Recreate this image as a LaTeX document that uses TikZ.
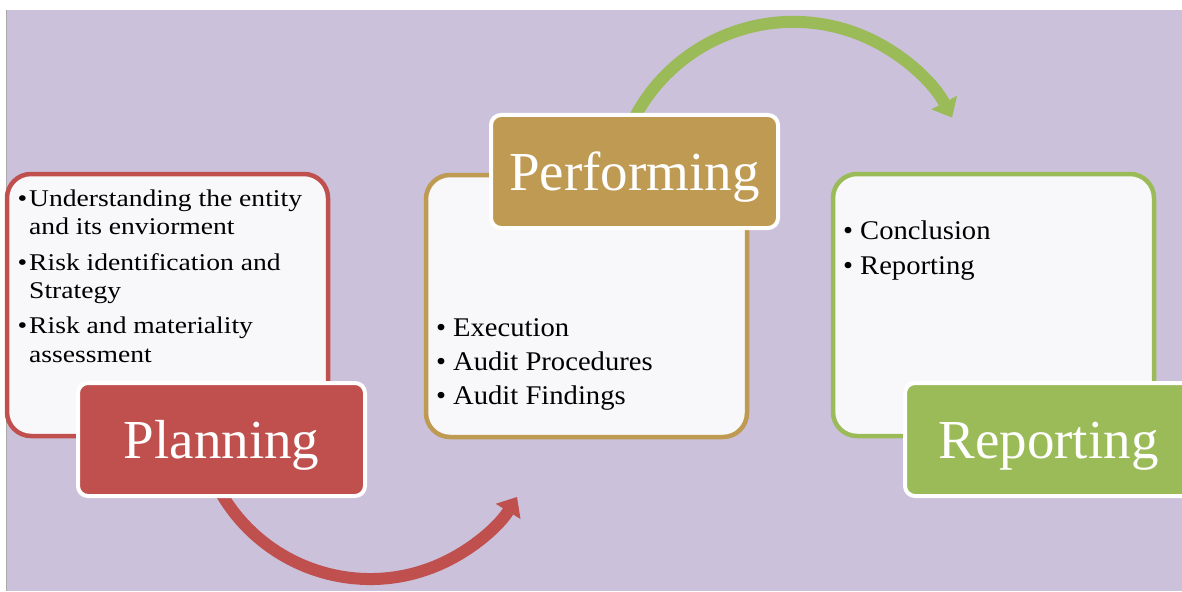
\documentclass[tikz,border=0pt]{standalone}
\usepackage{fontspec}
\setmainfont{Liberation Serif}
\newfontfamily\pfont{Liberation Serif}[FakeStretch=1.15]
\newfontfamily\qfont{Liberation Serif}[FakeStretch=1.06]
\usetikzlibrary{arrows.meta}
\definecolor{bgpurple}{HTML}{CBC1DB}
\definecolor{cred}{HTML}{C0504D}
\definecolor{cgold}{HTML}{BE9A52}
\definecolor{cgreen}{HTML}{9BBB59}
\definecolor{cbody}{HTML}{F8F8FA}
\definecolor{edgegray}{HTML}{A8A8A8}
\begin{document}
\begin{tikzpicture}[x=1pt,y=1pt,
  bodybox/.style={draw=#1, line width=4.5pt, fill=cbody, rounded corners=24pt,
    minimum width=321pt, minimum height=262pt, inner sep=0pt},
  labelbox/.style={draw=white, fill=#1, line width=4pt, rounded corners=10pt,
    text=white, font=\fontsize{55}{60}\selectfont, text height=37pt, text depth=0pt,
    inner sep=0pt, minimum width=287pt, minimum height=113pt},
  ptext/.style={anchor=base west, inner sep=0pt, font=\pfont\fontsize{24}{28}\selectfont},
  qtext/.style={anchor=base west, inner sep=0pt, font=\qfont\fontsize{27}{32}\selectfont},
  flow/.style={line width=12pt, -{Triangle[length=17pt,width=28pt]}}]
\useasboundingbox (0,0) rectangle (1182,-591);
% background
\fill[white] (0,0) rectangle (1182,-591);
\fill[bgpurple] (6,-10) rectangle (1182,-591);
\draw[edgegray, line width=1pt] (6.5,-10) -- (6.5,-591);
% curved arrows
\coordinate (redstart) at (213.95,-479.46);
\coordinate (greenstart) at (630.6,-125.5);
\draw[flow, cred] (redstart) arc[start angle=205, end angle=328.4, radius=172.4];
\draw[flow, cgreen] (greenstart) arc[start angle=155, end angle=27.8, radius=179.5];
% body boxes
\node[bodybox=cred] (planbody) at (167.5,-305) {};
\node[bodybox=cgold] (perfbody) at (586.5,-306) {};
\node[bodybox=cgreen] (repbody) at (993.5,-305) {};
% body texts
\node[ptext] (p1) at (29,-206) {\llap{\textbullet\hspace{2pt}}Understanding the entity};
\node[ptext] (p2) at (29,-234) {and its enviorment};
\node[ptext] (p3) at (29,-270) {\llap{\textbullet\hspace{2pt}}Risk identification and};
\node[ptext] (p4) at (29,-298) {Strategy};
\node[ptext] (p5) at (29,-333) {\llap{\textbullet\hspace{2pt}}Risk and materiality};
\node[ptext] (p6) at (29,-362) {assessment};
\node[qtext] (q1) at (453,-336) {\llap{\textbullet\hspace{7pt}}Execution};
\node[qtext] (q2) at (453,-370) {\llap{\textbullet\hspace{7pt}}Audit Procedures};
\node[qtext] (q3) at (453,-404) {\llap{\textbullet\hspace{7pt}}Audit Findings};
\node[qtext] (r1) at (860,-239) {\llap{\textbullet\hspace{7pt}}Conclusion};
\node[qtext] (r2) at (860,-274) {\llap{\textbullet\hspace{7pt}}Reporting};
% labels
\node[labelbox=cred] (planlabel) at (221.5,-439.5) {Planning};
\node[labelbox=cgold] (perflabel) at (634.5,-171.5) {Performing};
\node[labelbox=cgreen] (replabel) at (1048.5,-439.5) {Reporting};
\end{tikzpicture}
\end{document}
